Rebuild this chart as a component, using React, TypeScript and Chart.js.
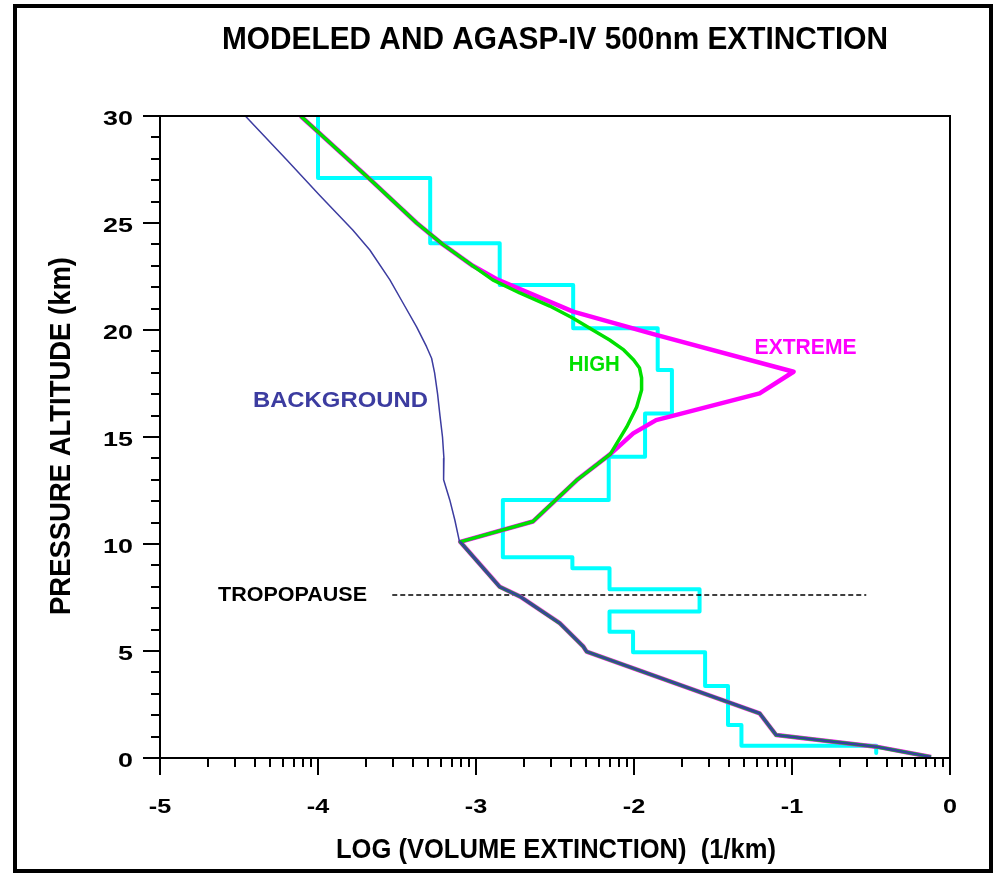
import React, { useEffect, useRef } from "react";
import { Chart, registerables } from "chart.js";

Chart.register(...registerables);

// ---------- axis definitions ----------
const X_MAJOR = [-5, -4, -3, -2, -1, 0];
const X_MINOR_MULT = [2, 3, 4, 5, 6, 7, 8, 9];
const Y_MAJOR = [0, 5, 10, 15, 20, 25, 30];
const Y_MINOR = [1, 2, 3, 4, 6, 7, 8, 9, 11, 12, 13, 14, 16, 17, 18, 19, 21, 22, 23, 24, 26, 27, 28, 29];

// ---------- AGASP-IV measured (stepped) ----------
const AGASP_BOUNDS = [30, 27.1, 24.05, 22.1, 20.08, 18.13, 16.1, 14.08, 12.06, 9.38, 8.87, 7.88, 6.84, 5.9, 4.94, 3.36, 1.54, 0.575, 0.23];
const AGASP_EXT = [-4.0, -3.29, -2.85, -2.385, -1.85, -1.76, -1.93, -2.16, -2.83, -2.39, -2.155, -1.585, -2.155, -2.006, -1.55, -1.405, -1.32, -0.467];

// ---------- BACKGROUND model (above 10 km) ----------
const BG_ALT = [30, 27.94, 26.3, 24.67, 23.74, 22.34, 21.25, 20.15, 19.22, 18.68, 18.0, 17.0, 16.0, 15.0, 14.0, 13.0, 12.06, 11.12, 10.19];
const BG_EXT = [-4.46, -4.197, -3.99, -3.78, -3.672, -3.545, -3.461, -3.376, -3.313, -3.281, -3.262, -3.243, -3.228, -3.212, -3.203, -3.205, -3.166, -3.134, -3.107];

// ---------- HIGH / EXTREME shared upper part ----------
const UPPER_ALT = [30, 27, 26, 25, 24, 23];
const UPPER_EXT = [-4.11, -3.665, -3.52, -3.375, -3.21, -3.02];

// ---------- HIGH peak ----------
const HIGH_ALT = [22.34, 21.73, 21.12, 20.56, 20.0, 19.53, 19.07, 18.6, 18.22, 17.76, 17.2, 16.4, 15.47];
const HIGH_EXT = [-2.894, -2.723, -2.533, -2.388, -2.261, -2.154, -2.065, -2.002, -1.965, -1.952, -1.952, -1.983, -2.046];

// ---------- EXTREME peak ----------
const EXTREME_ALT = [22.34, 20.86, 19.77, 18.05, 17.04, 15.79, 15.17];
const EXTREME_EXT = [-2.86, -2.385, -1.86, -0.99, -1.205, -1.86, -2.005];

// ---------- HIGH / EXTREME shared middle part ----------
const MID_ALT = [14.2, 13.0, 11.05];
const MID_EXT = [-2.15, -2.36, -2.64];

// ---------- all models shared below 10 km ----------
const LOWER_ALT = [10.1, 8.0, 7.54, 6.3, 5.2, 4.97, 2.09, 1.07, 0.53, 0.05];
const LOWER_EXT = [-3.1, -2.85, -2.72, -2.47, -2.32, -2.3, -1.205, -1.1, -0.467, -0.12];

// ---------- tropopause ----------
const TROPO_ALT = 7.62;
const TROPO_EXT = [-3.53, -0.53];

const FONT = '"Liberation Sans", Arial, Helvetica, sans-serif';
const NAVY = "#3c3ca0";
const GREEN = "#00e000";
const MAGENTA = "#ff00ff";
const CYAN = "#00ffff";

type P = { x: number; y: number };
const pts = (ext: number[], alt: number[]): P[] => ext.map((x, i) => ({ x, y: alt[i] }));

const stepPts = (): P[] => {
  const out: P[] = [];
  AGASP_EXT.forEach((v, i) => {
    out.push({ x: v, y: AGASP_BOUNDS[i] });
    out.push({ x: v, y: AGASP_BOUNDS[i + 1] });
  });
  return out;
};

const LABELS = [
  { text: "BACKGROUND", x: -4.412, y: 16.4, w: 175, size: 22, color: NAVY },
  { text: "HIGH", x: -2.413, y: 18.08, w: 51, size: 22, color: GREEN },
  { text: "EXTREME", x: -1.237, y: 18.88, w: 102, size: 22, color: MAGENTA },
  { text: "TROPOPAUSE", x: -4.633, y: 7.34, w: 149, size: 20, color: "#000" },
];

function drawText(
  ctx: CanvasRenderingContext2D,
  text: string,
  x: number,
  y: number,
  size: number,
  opts: { width?: number; sx?: number; color?: string; align?: CanvasTextAlign; rot?: number }
) {
  ctx.save();
  ctx.font = `bold ${size}px ${FONT}`;
  const m = ctx.measureText(text).width;
  const sx = opts.width ? opts.width / m : opts.sx ?? 1;
  ctx.translate(x, y);
  if (opts.rot) ctx.rotate(opts.rot);
  ctx.scale(sx, 1);
  ctx.textAlign = opts.align ?? "left";
  ctx.textBaseline = "alphabetic";
  ctx.fillStyle = opts.color ?? "#000";
  ctx.fillText(text, 0, 0);
  ctx.restore();
}

const decorPlugin = {
  id: "decor",
  afterDraw(chart: any) {
    const { ctx, chartArea: a } = chart;
    const xs = chart.scales.x;
    const ys = chart.scales.y;
    ctx.save();
    ctx.strokeStyle = "#000";
    ctx.lineWidth = 2;
    ctx.strokeRect(a.left, a.top, a.right - a.left, a.bottom - a.top);

    // x ticks (log-decade minor ticks)
    ctx.beginPath();
    X_MAJOR.forEach((v) => {
      const px = Math.round(xs.getPixelForValue(v));
      ctx.moveTo(px, a.bottom);
      ctx.lineTo(px, a.bottom + 17);
    });
    for (let d = -5; d < 0; d++) {
      X_MINOR_MULT.forEach((k) => {
        const px = Math.round(xs.getPixelForValue(d + Math.log10(k)));
        ctx.moveTo(px, a.bottom);
        ctx.lineTo(px, a.bottom + 9);
      });
    }
    // y ticks
    Y_MAJOR.forEach((v) => {
      const py = Math.round(ys.getPixelForValue(v));
      ctx.moveTo(a.left, py);
      ctx.lineTo(a.left - 17, py);
    });
    Y_MINOR.forEach((v) => {
      const py = Math.round(ys.getPixelForValue(v));
      ctx.moveTo(a.left, py);
      ctx.lineTo(a.left - 9, py);
    });
    ctx.stroke();

    // tick labels
    X_MAJOR.forEach((v) => {
      drawText(ctx, String(v), xs.getPixelForValue(v), a.bottom + 55, 21, { sx: 1.2, align: "center" });
    });
    Y_MAJOR.forEach((v) => {
      drawText(ctx, String(v), a.left - 27, ys.getPixelForValue(v) + 8.5, 21, { sx: 1.28, align: "right" });
    });

    // titles
    drawText(ctx, "MODELED AND AGASP-IV 500nm EXTINCTION", 555, 49, 32, { width: 666, align: "center" });
    drawText(ctx, "LOG (VOLUME EXTINCTION)  (1/km)", 556, 858, 28, { width: 440, align: "center" });
    drawText(ctx, "PRESSURE ALTITUDE (km)", 70, 436, 29, { width: 358, align: "center", rot: -Math.PI / 2 });

    // curve labels
    LABELS.forEach((l) => {
      drawText(ctx, l.text, xs.getPixelForValue(l.x), ys.getPixelForValue(l.y), l.size, {
        width: l.w,
        color: l.color,
      });
    });
    ctx.restore();
  },
};

export default function App() {
  const ref = useRef<HTMLCanvasElement | null>(null);

  useEffect(() => {
    if (!ref.current) return;
    const high = [...pts(UPPER_EXT, UPPER_ALT), ...pts(HIGH_EXT, HIGH_ALT), ...pts(MID_EXT, MID_ALT), ...pts(LOWER_EXT, LOWER_ALT)];
    const extreme = [...pts(UPPER_EXT, UPPER_ALT), ...pts(EXTREME_EXT, EXTREME_ALT), ...pts(MID_EXT, MID_ALT), ...pts(LOWER_EXT, LOWER_ALT)];
    const bg = [...pts(BG_EXT, BG_ALT), ...pts(LOWER_EXT, LOWER_ALT)];
    const tropo = TROPO_EXT.map((x) => ({ x, y: TROPO_ALT }));
    const lowTop = LOWER_ALT[0] + 0.05;

    const chart = new Chart(ref.current, {
      type: "scatter",
      data: {
        datasets: [
          {
            label: "BACKGROUND",
            data: bg,
            borderColor: NAVY,
            borderWidth: 1.5,
            showLine: true,
            pointRadius: 0,
            segment: { borderWidth: (c: any) => (c.p0.parsed.y <= lowTop ? 2.5 : 1.5) },
          },
          { label: "HIGH", data: high, borderColor: GREEN, borderWidth: 3.5, showLine: true, pointRadius: 0 },
          { label: "EXTREME", data: extreme, borderColor: MAGENTA, borderWidth: 4.5, showLine: true, pointRadius: 0 },
          { label: "TROPOPAUSE", data: tropo, borderColor: "#000", borderWidth: 1.5, borderDash: [5, 3], showLine: true, pointRadius: 0 },
          { label: "AGASP-IV", data: stepPts(), borderColor: CYAN, borderWidth: 4, showLine: true, pointRadius: 0 },
        ] as any,
      },
      options: {
        animation: false,
        responsive: false,
        layout: { padding: { top: 116, right: 44, bottom: 0, left: 0 } },
        plugins: { legend: { display: false }, tooltip: { enabled: false }, title: { display: false } },
        elements: { line: { borderJoinStyle: "round", borderCapStyle: "butt", tension: 0 } },
        scales: {
          x: {
            type: "linear",
            min: -5,
            max: 0,
            grid: { display: false },
            border: { display: false },
            ticks: { display: false },
            afterBuildTicks: (s: any) => {
              s.ticks = X_MAJOR.map((v) => ({ value: v }));
            },
            afterFit: (s: any) => {
              s.height = 115;
            },
          },
          y: {
            type: "linear",
            min: 0,
            max: 30,
            grid: { display: false },
            border: { display: false },
            ticks: { display: false },
            afterBuildTicks: (s: any) => {
              s.ticks = Y_MAJOR.map((v) => ({ value: v }));
            },
            afterFit: (s: any) => {
              s.width = 160;
            },
          },
        },
      } as any,
      plugins: [decorPlugin],
    });
    return () => chart.destroy();
  }, []);

  return (
    <>
      <div style={{ position: "absolute", left: 0, top: 0, width: 994, height: 873 }}>
        <canvas ref={ref} width={994} height={873} style={{ display: "block" }} />
      </div>
      <div
        style={{
          position: "absolute",
          left: 13,
          top: 4,
          width: 972,
          height: 861,
          border: "4px solid #000",
          pointerEvents: "none",
        }}
      />
    </>
  );
}
